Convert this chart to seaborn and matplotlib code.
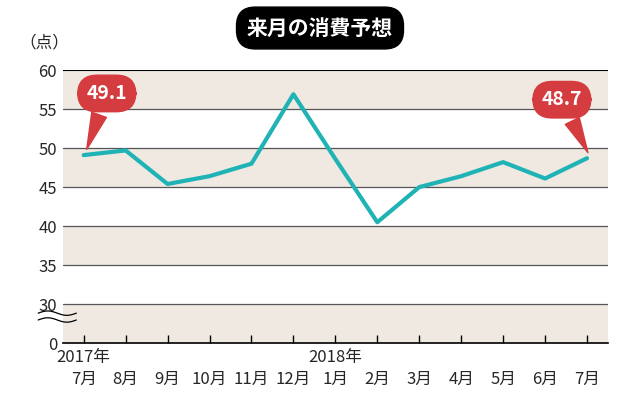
import matplotlib
matplotlib.use("Agg")
import matplotlib.pyplot as plt
import seaborn as sns
import numpy as np

sns.set_theme(style="white")
plt.rcParams['font.family'] = ['Noto Sans CJK JP', 'DejaVu Sans']

months = ["2017年\n7月", "\n8月", "\n9月", "\n10月", "\n11月", "\n12月", "2018年\n1月",
          "\n2月", "\n3月", "\n4月", "\n5月", "\n6月", "\n7月"]
values = [49.1, 49.7, 45.4, 46.4, 48.0, 56.9, 48.6, 40.5, 45.0, 46.4, 48.2, 46.1, 48.7]
yticks = [25, 30, 35, 40, 45, 50, 55, 60]
ytick_labels = ["0", "30", "35", "40", "45", "50", "55", "60"]
teal = "#1fb3b5"
red = "#d43c3f"
beige = "#efe9e2"

fig = plt.figure(figsize=(6.4, 4.12), dpi=100)
ax = fig.add_axes([0.098, 0.167, 0.852, 0.663])
x = np.arange(len(values))
ax.set_xlim(-0.5, len(values) - 0.5)
ax.set_ylim(25, 60)
for lo in [55, 45, 35, 25]:
    ax.axhspan(lo, lo + 5, color=beige, zorder=0, lw=0)
for y in [30, 35, 40, 45, 50, 55]:
    ax.axhline(y, color="#555555", lw=0.9, zorder=1)
ax.axhline(60, color="black", lw=1.5, zorder=1)

sns.lineplot(x=x, y=values, ax=ax, color=teal, lw=3, zorder=3)

for s in ["top", "right", "left"]:
    ax.spines[s].set_visible(False)
ax.spines["bottom"].set_color("black")
ax.spines["bottom"].set_linewidth(1.2)
ax.set_yticks(yticks)
ax.set_yticklabels(ytick_labels, fontsize=12)
ax.tick_params(axis="y", length=0, pad=4)
ax.set_xticks(x)
ax.set_xticklabels(months, fontsize=12, linespacing=1.4)
ax.tick_params(axis="x", direction="in", length=6, color="black", width=1, pad=4, bottom=True)

tt = np.linspace(0, 1, 50)
for off in [0.0, 0.025]:
    xs = -0.045 + tt * 0.07
    ys = 0.085 + off + 0.008 * np.sin(tt * 2 * np.pi)
    ax.plot(xs, ys, transform=ax.transAxes, color="black", lw=0.9, clip_on=False, zorder=5)

for xi, xt, yt in [(0, 0.55, 57.0), (12, 11.4, 56.2)]:
    ax.annotate(f"{values[xi]}", xy=(xi + 0.05, values[xi] + 0.4), xytext=(xt, yt),
                ha="center", va="center", color="white", fontsize=14, fontweight="bold",
                bbox=dict(boxstyle="round,pad=0.45,rounding_size=1.0", fc=red, ec=red),
                arrowprops=dict(arrowstyle="wedge,tail_width=0.8,shrink_factor=0.5", fc=red, ec=red),
                zorder=6)

fig.text(0.03, 0.895, "（点）", fontsize=12, ha="left", va="center")
fig.text(0.5, 0.932, "来月の消費予想", fontsize=15, fontweight="bold", color="white",
         ha="center", va="center",
         bbox=dict(boxstyle="round,pad=0.5,rounding_size=0.9", fc="black", ec="black"))

fig.savefig("out.png", dpi=100)
